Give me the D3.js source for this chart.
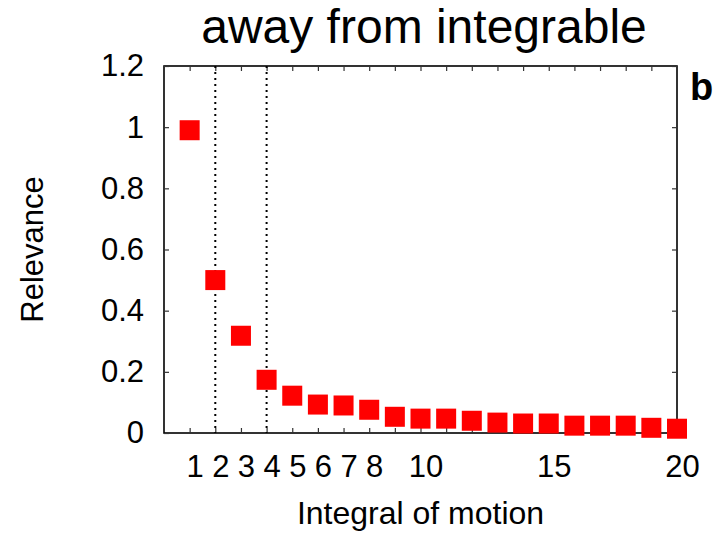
<!DOCTYPE html>
<html>
<head>
<meta charset="utf-8">
<script src="https://cdn.jsdelivr.net/npm/d3@7"></script>
<style>
  html, body { margin: 0; padding: 0; background: #fff; }
  svg { display: block; font-family: "Liberation Sans", Arial, Helvetica, sans-serif; }
</style>
</head>
<body>
<script>
// ---- data ----
const integrals = d3.range(1, 21);
const relevance = [0.990, 0.500, 0.318, 0.174, 0.122, 0.093, 0.090, 0.076, 0.053, 0.047,
                   0.047, 0.040, 0.034, 0.031, 0.031, 0.024, 0.024, 0.024, 0.017, 0.014];
const xLabelTicks = [1, 2, 3, 4, 5, 6, 7, 8, 10, 15, 20];
const yTicks = [0, 0.2, 0.4, 0.6, 0.8, 1, 1.2];
const markerLines = [2, 4];
const titleText = "away from integrable";
const xTitle = "Integral of motion";
const yTitle = "Relevance";
const panelLabel = "b";

// ---- layout ----
const W = 717, H = 534;
const pLeft = 164, pRight = 677, pTop = 66, pBottom = 433;

const svg = d3.select("body").append("svg").attr("width", W).attr("height", H);

const x = d3.scaleLinear().domain([0, 20]).range([pLeft, pRight]);
const y = d3.scaleLinear().domain([0, 1.2]).range([pBottom, pTop]);

// frame
svg.append("rect")
  .attr("x", pLeft).attr("y", pTop)
  .attr("width", pRight - pLeft).attr("height", pBottom - pTop)
  .attr("fill", "none").attr("stroke", "#000").attr("stroke-width", 1.6);

function styleAxis(g, showText) {
  g.select(".domain").remove();
  g.selectAll(".tick line").attr("stroke", "#333").attr("stroke-width", 1.2);
  g.selectAll(".tick text").attr("fill", "#000")
    .style("font-size", "31px")
    .style("display", showText ? null : "none");
}

// bottom axis
const gx = svg.append("g").attr("transform", `translate(0,${pBottom})`)
  .call(d3.axisBottom(x).tickValues(integrals)
    .tickSizeInner(-5).tickSizeOuter(0).tickPadding(22)
    .tickFormat(d => xLabelTicks.includes(d) ? d3.format("d")(d) : ""));
styleAxis(gx, true);
gx.selectAll(".tick text").attr("dx", 5);

// top axis
const gxt = svg.append("g").attr("transform", `translate(0,${pTop})`)
  .call(d3.axisTop(x).tickValues(integrals.slice(0, 19)).tickSizeInner(-5).tickSizeOuter(0));
styleAxis(gxt, false);

// left axis
const gy = svg.append("g").attr("transform", `translate(${pLeft},0)`)
  .call(d3.axisLeft(y).tickValues(yTicks).tickSizeInner(-5).tickSizeOuter(0).tickPadding(20)
    .tickFormat(d => d3.format("")(+d.toFixed(1))));
styleAxis(gy, true);

// right axis
const gyr = svg.append("g").attr("transform", `translate(${pRight},0)`)
  .call(d3.axisRight(y).tickValues(yTicks).tickSizeInner(-5).tickSizeOuter(0));
styleAxis(gyr, false);

// dotted vertical lines
svg.selectAll("line.vmark").data(markerLines).join("line")
  .attr("class", "vmark")
  .attr("x1", d => x(d)).attr("x2", d => x(d))
  .attr("y1", pTop).attr("y2", pBottom)
  .attr("stroke", "#000").attr("stroke-width", 2)
  .attr("stroke-dasharray", "2,4");

// markers
const S = 20;
svg.selectAll("rect.pt").data(integrals.map((d, i) => ({ k: d, v: relevance[i] }))).join("rect")
  .attr("class", "pt")
  .attr("x", d => x(d.k) - S / 2).attr("y", d => y(d.v) - S / 2)
  .attr("width", S).attr("height", S)
  .attr("fill", "#ff0000");

// titles
svg.append("text").attr("x", 424).attr("y", 43).attr("text-anchor", "middle")
  .style("font-size", "48px").text(titleText);
svg.append("text").attr("x", 420.5).attr("y", 524).attr("text-anchor", "middle")
  .style("font-size", "32px").text(xTitle);
svg.append("text").attr("transform", `translate(43,${(pTop + pBottom) / 2}) rotate(-90)`)
  .attr("text-anchor", "middle").style("font-size", "31px").text(yTitle);
svg.append("text").attr("x", 690).attr("y", 100)
  .style("font-size", "38px").style("font-weight", "bold").text(panelLabel);
</script>
</body>
</html>
